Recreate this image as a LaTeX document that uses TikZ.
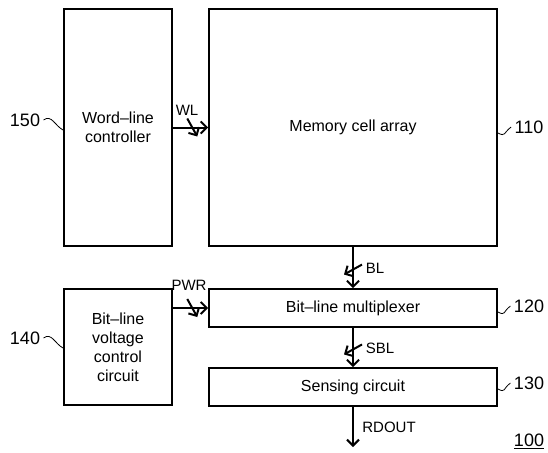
\documentclass[tikz,border=0pt]{standalone}
\usepackage{fontspec}
\setmainfont{Liberation Sans}
\usetikzlibrary{arrows.meta, decorations.markings}

\begin{document}
\begin{tikzpicture}[
	x=1pt, y=-1pt,
	font=\fontsize{16}{19}\selectfont,
	% Styles for the blocks, buses and reference numerals
	block/.style={draw, line width=1.8pt, inner sep=0pt, align=center},
	bus/.style={line width=2pt, -{Straight Barb[length=6pt, width=12pt, line width=2pt]},
		postaction={decorate, decoration={markings,
		mark=at position 0.55 with {\draw[line width=2pt] (-5pt,9pt) -- (5pt,-9pt);}}}},
	plain/.style={line width=2pt, -{Straight Barb[length=6pt, width=12pt, line width=2pt]}},
	sig/.style={font=\fontsize{15}{18}\selectfont},
	refnum/.style={font=\fontsize{18}{20}\selectfont},
	leader/.style={line width=0.8pt}
	]
	\useasboundingbox (0,0) rectangle (548,452);
	
	% ==========================================
	% 1. BLOCKS
	% ==========================================
	\node[block, minimum width=108pt, minimum height=237pt] (wlc) at (118,127.5) {Word--line\\controller};
	\node[block, minimum width=288pt, minimum height=237pt] (mca) at (353,127.5) {Memory cell array};
	\node[block, minimum width=288pt, minimum height=38pt] (blm) at (353,308) {Bit--line multiplexer};
	\node[block, minimum width=288pt, minimum height=38pt] (sense) at (353,387) {Sensing circuit};
	\node[block, minimum width=108pt, minimum height=116pt] (blv) at (118,347) {Bit--line\\voltage\\control\\circuit};
	
	% ==========================================
	% 2. BUSES
	% ==========================================
	\coordinate (pwrin) at (blm.west -| blv.east);
	\coordinate (rdout) at (353,447);
	\draw[bus] (wlc.east) -- (mca.west);
	\draw[bus] (pwrin) -- (blm.west);
	\draw[bus] (mca.south) -- (blm.north);
	\draw[bus] (blm.south) -- (sense.north);
	\draw[plain] (sense.south) -- (rdout);
	
	% Bus names
	\node[sig] (wl) at (187,110) {WL};
	\node[sig] (pwr) at (189,285) {PWR};
	\node[sig] (bl) at (375,268) {BL};
	\node[sig] (sbl) at (380,348) {SBL};
	\node[sig] (rd) at (389,427) {RDOUT};
	
	% ==========================================
	% 3. REFERENCE NUMERALS
	% ==========================================
	\node[refnum] (n150) at (25,120) {150};
	\node[refnum] (n140) at (25,338) {140};
	\node[refnum] (n110) at (529,127) {110};
	\node[refnum] (n120) at (529,306) {120};
	\node[refnum] (n130) at (529,383) {130};
	\node[refnum] (n100) at (529,441) {\underline{100}};
	
	% Squiggly leaders
	\draw[leader] (n150.east) .. controls +(8,-6) and +(-8,-4) .. (wlc.west |- 0,130);
	\draw[leader] (n140.east) .. controls +(8,-6) and +(-8,-4) .. (blv.west |- 0,348);
	\draw[leader] (mca.east |- 0,133) .. controls +(8,4) and +(-8,6) .. (n110.west);
	\draw[leader] (blm.east |- 0,312) .. controls +(8,4) and +(-8,6) .. (n120.west);
	\draw[leader] (sense.east |- 0,389) .. controls +(8,4) and +(-8,6) .. (n130.west);
	
\end{tikzpicture}
\end{document}
